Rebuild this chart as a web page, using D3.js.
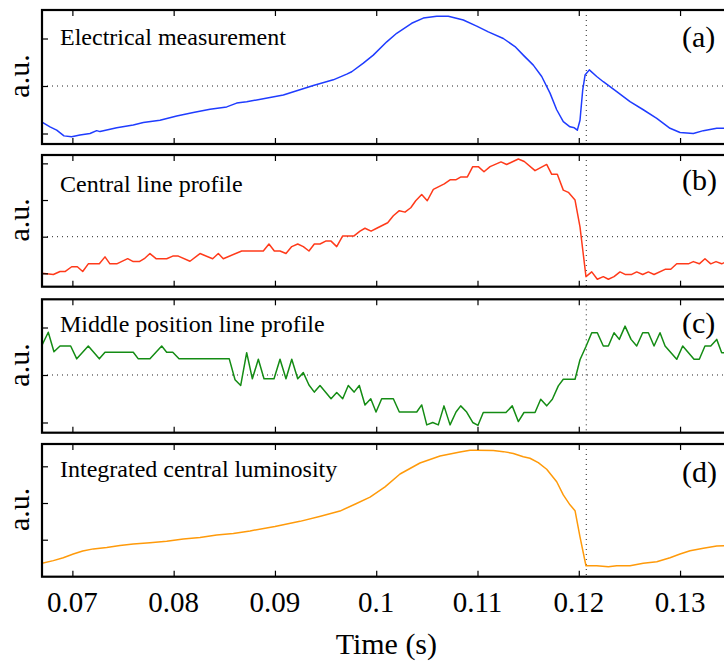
<!DOCTYPE html>
<html><head><meta charset="utf-8">
<script src="https://cdn.jsdelivr.net/npm/d3@7"></script>
<style>html,body{margin:0;padding:0;background:#fff;}svg{display:block;}</style>
</head><body>
<script>
// ---- data (time in ms, values in a.u.) ----
const xTicks = [0.07, 0.08, 0.09, 0.1, 0.11, 0.12, 0.13];
const xTickLabels = ["0.07", "0.08", "0.09", "0.1", "0.11", "0.12", "0.13"];
const markerTime = 120.74; // ms, vertical dotted line
const panelTitles = ["Electrical measurement", "Central line profile", "Middle position line profile", "Integrated central luminosity"];
const panelTags = ["(a)", "(b)", "(c)", "(d)"];

const electrical = [
[67.0,-0.76],[67.79,-0.86],[68.45,-0.93],[69.17,-1.05],[69.93,-1.07],[70.75,-1.03],[71.74,-1.0],[72.4,-0.94],[72.73,-0.96],
[74.38,-0.88],[76.01,-0.82],[77.0,-0.77],[78.65,-0.72],[80.3,-0.63],[81.94,-0.56],[83.59,-0.49],[85.24,-0.44],[86.22,-0.36],
[87.21,-0.33],[88.85,-0.27],[90.83,-0.19],[92.15,-0.1],[93.79,0.01],[95.76,0.13],[97.09,0.25],[97.58,0.3],[98.73,0.48],
[99.71,0.65],[101.04,0.93],[102.02,1.11],[103.5,1.32],[104.65,1.43],[105.97,1.47],[107.12,1.47],[108.6,1.39],[109.92,1.26],
[111.07,1.14],[112.55,1.0],[113.7,0.83],[114.52,0.65],[115.51,0.44],[116.34,0.2],[117.16,-0.15],[117.82,-0.5],[118.47,-0.75],
[119.13,-0.86],[119.56,-0.88],[119.86,-0.93],[120.12,-0.72],[120.39,-0.08],[120.62,0.23],[121.04,0.34],[121.77,0.2],
[122.42,0.09],[123.75,-0.12],[125.06,-0.33],[126.37,-0.5],[127.7,-0.68],[129.01,-0.89],[130.0,-0.98],[131.31,-1.0],
[132.3,-0.94],[133.62,-0.89],[135.0,-0.89]
];
const centralProfile = [
[67.0,-1.0],[68.12,-1.03],[68.78,-0.95],[69.27,-0.95],[69.93,-0.82],[70.49,-0.82],[71.02,-0.95],[71.57,-0.74],[72.66,-0.74],
[73.22,-0.55],[73.71,-0.74],[74.38,-0.74],[75.46,-0.6],[76.01,-0.68],[76.61,-0.68],[77.1,-0.6],[77.66,-0.46],[78.26,-0.6],
[79.31,-0.6],[79.91,-0.53],[80.46,-0.53],[81.61,-0.67],[82.6,-0.46],[83.85,-0.6],[84.41,-0.46],[84.9,-0.6],[86.72,-0.39],
[88.85,-0.39],[89.41,-0.2],[89.94,-0.39],[90.5,-0.39],[91.09,-0.46],[91.66,-0.27],[92.25,-0.2],[92.8,-0.27],[93.36,-0.39],
[93.89,-0.2],[94.45,-0.2],[95.01,-0.12],[95.54,-0.12],[96.1,-0.27],[96.69,0.02],[97.81,0.02],[98.4,0.15],[98.89,0.23],
[99.49,0.15],[100.05,0.23],[101.13,0.38],[101.69,0.57],[102.28,0.71],[102.84,0.67],[103.41,0.79],[103.9,0.98],[104.49,1.15],
[105.04,0.98],[105.64,1.29],[106.72,1.44],[107.29,1.55],[107.85,1.55],[108.37,1.63],[109.0,1.63],[109.53,1.91],[110.08,1.91],
[110.64,1.77],[111.24,1.91],[112.32,2.04],[112.88,1.97],[114.03,2.12],[114.62,2.05],[115.68,1.8],[116.83,1.97],[117.33,1.7],
[117.88,1.7],[118.47,1.27],[118.97,1.21],[119.63,1.0],[120.12,0.27],[120.71,-1.09],[121.28,-0.96],[121.83,-1.16],[122.42,-1.09],
[122.92,-1.16],[123.48,-1.09],[124.07,-0.96],[124.57,-1.03],[125.23,-1.03],[125.72,-0.96],[126.31,-1.03],[126.87,-0.96],
[127.43,-1.03],[128.52,-0.89],[129.08,-0.89],[129.67,-0.74],[130.82,-0.74],[131.31,-0.68],[131.9,-0.74],[132.46,-0.6],
[133.03,-0.74],[133.55,-0.68],[134.11,-0.74],[134.6,-0.68]
];
const middleProfile = [
[67.0,0.63],[67.62,0.9],[68.18,0.49],[68.78,0.61],[69.83,0.61],[70.43,0.34],[71.57,0.61],[72.66,0.34],[73.22,0.48],[76.01,0.48],
[76.51,0.34],[77.66,0.34],[78.82,0.61],[79.31,0.48],[79.91,0.48],[80.53,0.34],[85.49,0.34],[86.06,-0.1],[86.62,-0.22],
[87.21,0.47],[87.77,-0.08],[88.36,0.33],[88.92,-0.08],[89.91,-0.08],[90.5,0.33],[91.09,-0.08],[91.66,0.33],[92.25,-0.08],
[92.8,0.05],[93.36,-0.21],[93.89,-0.36],[94.45,-0.22],[95.54,-0.5],[96.1,-0.37],[96.69,-0.5],[97.24,-0.22],[97.81,-0.36],
[98.33,-0.22],[98.89,-0.63],[99.46,-0.5],[99.98,-0.78],[100.54,-0.5],[101.69,-0.5],[102.28,-0.78],[104.0,-0.78],[104.49,-0.63],
[104.99,-1.05],[105.58,-1.0],[106.13,-1.05],[106.69,-0.65],[107.29,-1.05],[107.88,-0.78],[108.34,-0.65],[108.93,-0.78],
[109.53,-1.0],[110.05,-1.06],[110.57,-0.79],[112.81,-0.79],[113.43,-0.65],[114.03,-0.98],[114.59,-0.79],[115.68,-0.79],
[116.24,-0.51],[116.83,-0.65],[117.39,-0.51],[117.98,-0.23],[118.47,-0.09],[119.63,-0.09],[120.12,0.32],[120.71,0.6],
[121.28,0.89],[121.83,0.89],[122.42,0.61],[122.92,0.61],[123.48,0.89],[124.0,0.75],[124.57,1.03],[125.16,0.75],[125.72,0.61],
[126.31,0.89],[126.87,0.89],[127.43,0.61],[128.02,0.89],[128.52,0.61],[129.67,0.33],[130.26,0.61],[131.38,0.33],[131.9,0.33],
[132.46,0.61],[133.03,0.61],[133.62,0.75],[134.11,0.47],[134.6,0.47]
];
const luminosity = [
[67.0,-1.64],[68.12,-1.57],[69.1,-1.49],[70.09,-1.39],[71.02,-1.31],[72.07,-1.25],[73.39,-1.21],[74.7,-1.16],[76.01,-1.12],
[77.66,-1.08],[79.31,-1.04],[80.95,-0.98],[82.6,-0.94],[84.25,-0.87],[85.89,-0.83],[87.54,-0.76],[90.0,-0.64],[92.47,-0.5],
[94.5,-0.36],[96.42,-0.22],[98.0,-0.02],[99.39,0.16],[100.87,0.44],[102.35,0.79],[104.32,1.09],[106.3,1.28],[108.27,1.39],
[109.26,1.44],[109.92,1.44],[111.56,1.43],[112.55,1.4],[113.54,1.35],[114.52,1.26],[115.18,1.22],[116.0,1.1],[116.83,0.92],
[117.82,0.58],[118.47,0.22],[119.13,-0.05],[119.63,-0.21],[120.12,-0.92],[120.71,-1.71],[121.77,-1.71],[122.92,-1.74],
[123.75,-1.71],[125.06,-1.71],[126.37,-1.64],[127.7,-1.6],[129.01,-1.49],[130.0,-1.39],[130.99,-1.3],[132.3,-1.23],
[133.62,-1.17],[135.0,-1.16]
];

const series = [electrical, centralProfile, middleProfile, luminosity];
const colors = ["#1f3cff", "#ff3a1a", "#148c14", "#ff9a0a"];
const yDomains = [[-1.221, 1.6], [-1.364, 2.228], [-1.215, 1.594], [-2.008, 1.608]];
const yTickVals = [[-1, 0, 1], [-1, 0, 1, 2], [-1, 0, 1], [-1, 0, 1]];
const hasHGrid = [true, true, true, false];

// ---- layout ----
const W = 724, H = 663;
const left = 42, right = 730.7;
const panels = [[10, 144], [155, 286.7], [299.3, 432.7], [444, 576.7]];
const FONT = "'Liberation Serif','Times New Roman',serif";

const svg = d3.select("body").append("svg").attr("width", W).attr("height", H);
const x = d3.scaleLinear().domain([0.067, 0.135]).range([left, right]);

panels.forEach(([top, bottom], i) => {
  const y = d3.scaleLinear().domain(yDomains[i]).range([bottom, top]);
  const g = svg.append("g");
  const cid = "clip" + i;
  svg.append("clipPath").attr("id", cid).append("rect")
    .attr("x", left).attr("y", top).attr("width", right - left).attr("height", bottom - top);

  // grid dotted
  if (hasHGrid[i]) {
    g.append("line").attr("x1", left).attr("x2", right).attr("y1", y(0)).attr("y2", y(0))
      .attr("stroke", "#222").attr("stroke-width", 1).attr("stroke-dasharray", "1,4");
  }
  g.append("line").attr("x1", x(markerTime / 1000)).attr("x2", x(markerTime / 1000))
    .attr("y1", top).attr("y2", bottom)
    .attr("stroke", "#222").attr("stroke-width", 1).attr("stroke-dasharray", "1,4");

  // data line
  const line = d3.line().x(d => x(d[0] / 1000)).y(d => y(d[1]));
  g.append("path").datum(series[i]).attr("d", line)
    .attr("fill", "none").attr("stroke", colors[i]).attr("stroke-width", 1.5)
    .attr("stroke-linejoin", "round").attr("clip-path", `url(#${cid})`);

  // axes with inward ticks
  const axB = d3.axisBottom(x).tickValues(xTicks).tickSize(-6).tickFormat("");
  const axT = d3.axisTop(x).tickValues(xTicks).tickSize(-6).tickFormat("");
  const axL = d3.axisLeft(y).tickValues(yTickVals[i]).tickSize(-6).tickFormat("");
  const axR = d3.axisRight(y).tickValues(yTickVals[i]).tickSize(-6).tickFormat("");
  [[axB, `translate(0,${bottom})`], [axT, `translate(0,${top})`], [axL, `translate(${left},0)`], [axR, `translate(${right},0)`]]
    .forEach(([ax, tr]) => {
      const a = g.append("g").attr("transform", tr).call(ax);
      a.select(".domain").remove();
      a.selectAll(".tick line").attr("stroke", "#000").attr("stroke-width", 1.2);
    });

  // frame
  g.append("rect").attr("x", left).attr("y", top).attr("width", right - left).attr("height", bottom - top)
    .attr("fill", "none").attr("stroke", "#000").attr("stroke-width", 2.2);

  // labels
  const titleBase = [45, 191.5, 331.5, 476.5][i];
  g.append("text").attr("x", 60).attr("y", titleBase).text(panelTitles[i])
    .attr("font-family", FONT).attr("font-size", 24).attr("fill", "#000");
  const tagBase = [46.5, 190, 333, 481.5][i];
  g.append("text").attr("x", 682).attr("y", tagBase).text(panelTags[i])
    .attr("font-family", FONT).attr("font-size", 30).attr("fill", "#000");
  g.append("text").attr("transform", `translate(28.5,${(top + bottom) / 2 - 1}) rotate(-90)`)
    .attr("text-anchor", "middle").text("a.u.")
    .attr("font-family", FONT).attr("font-size", 30).attr("fill", "#000");
});

// x tick labels
svg.append("g").selectAll("text").data(xTicks).join("text")
  .attr("x", d => x(d)).attr("y", 612).attr("text-anchor", "middle")
  .text((d, i) => xTickLabels[i])
  .attr("font-family", FONT).attr("font-size", 29).attr("fill", "#000");

svg.append("text").attr("x", (left + right) / 2).attr("y", 654).attr("text-anchor", "middle")
  .text("Time (s)").attr("font-family", FONT).attr("font-size", 30).attr("fill", "#000");
</script>
</body></html>
